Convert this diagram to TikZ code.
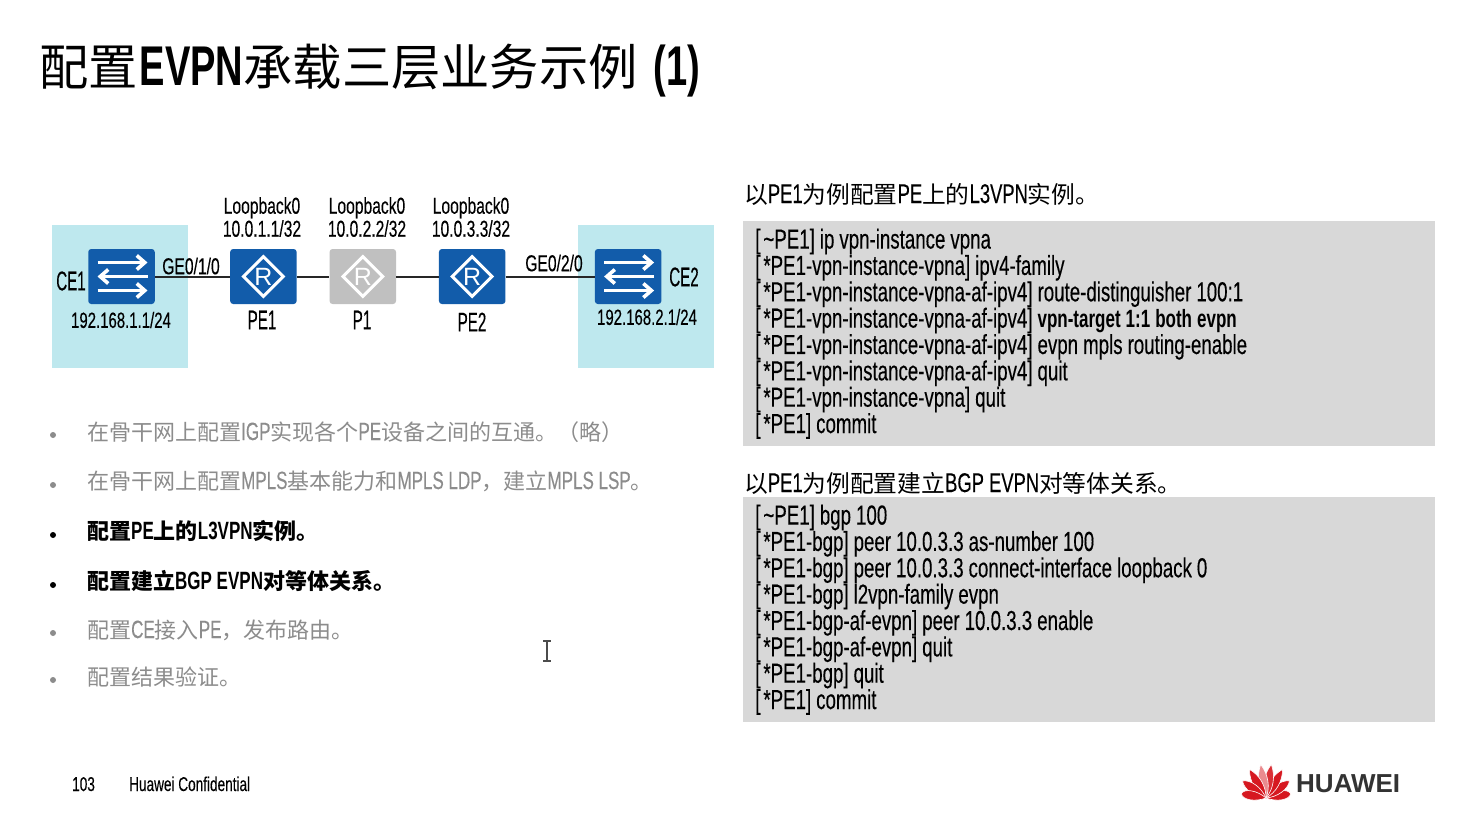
\documentclass[tikz,border=0pt]{standalone}
\usepackage{fontspec}
\usepackage{xcolor}
\setmainfont[FakeStretch=0.68,FakeBold=0.25,BoldFeatures={FakeBold=0}]{Liberation Sans}
\newfontfamily\cjk[Scale=0.88]{Noto Sans CJK SC}
\newfontfamily\namefont[FakeStretch=0.56,FakeBold=0.25]{Liberation Sans}
\newfontfamily\plainsans{Liberation Sans}
\usetikzlibrary{arrows.meta,positioning,shapes.geometric}
\newcommand{\zh}[1]{{\cjk #1}}
\newcommand{\fsize}[1]{\fontsize{#1}{#1}\selectfont}
\newcommand{\lb}{{[}\kern3pt}
\definecolor{hwblue}{RGB}{18,92,170}
\definecolor{siteblue}{RGB}{190,232,238}
\definecolor{codegrey}{RGB}{216,216,216}
\definecolor{pgrey}{RGB}{192,192,192}
\definecolor{muted}{RGB}{140,140,140}
\definecolor{hwred}{RGB}{214,24,32}
\begin{document}
\begin{tikzpicture}[
    x=1pt, y=-1pt,
    node distance=33pt,
    site/.style={fill=siteblue, minimum width=136pt, minimum height=143pt, inner sep=0pt, anchor=north west},
    device/.style={fill=hwblue, rounded corners=3pt, minimum width=66.5pt, minimum height=55pt, inner sep=0pt},
    router/.style={device},
    prouter/.style={device, fill=pgrey},
    rmark/.style={diamond, draw=white, line width=3pt, minimum width=41pt, minimum height=41pt, inner sep=0pt, text=white, font={\plainsans\fsize{25}}},
    swarrow/.style={draw=white, line width=3.6pt, -{Straight Barb[length=8pt,width=14pt]}},
    link/.style={draw=black!85, line width=2pt},
    small/.style={inner sep=0pt, font=\fsize{23}, align=center},
    ipaddr/.style={inner sep=0pt, font=\fsize{22}},
    devname/.style={inner sep=0pt, font={\namefont\fsize{27}}},
    codebox/.style={fill=codegrey, anchor=north west, minimum width=692pt, minimum height=225pt, inner sep=0pt, inner xsep=12pt, text width=668pt, align=left, font={\fontsize{27.5}{26.35}\selectfont\lineskiplimit=-10pt}},
    heading/.style={anchor=base west, inner sep=0pt, font=\fsize{27}},
    bullet/.style={anchor=base west, inner sep=0pt, font=\fsize{25}, text=muted},
    strong/.style={bullet, text=black, font=\fsize{25}\bfseries},
    dot/.style={circle, fill=#1, minimum size=6pt, inner sep=0pt}
  ]
    \useasboundingbox (0,0) rectangle (1480,815);
    \fill[white] (0,0) rectangle (1480,815);

    % title
    \node[anchor=base west, inner sep=0pt, font=\fsize{56}] (title) at (39,85) {\zh{配置}\hspace{2pt}{\bfseries EVPN}\zh{承载三层业务示例}\hspace{16pt}{\bfseries (1)}};

    % network
    \node[site] (site1) at (52,225) {};
    \node[site] (site2) at (578,225) {};
    \node[device] (ce1) at (121.5,276.5) {};
    \node[router, right=75pt of ce1] (pe1) {};
    \node[prouter, right=32.5pt of pe1] (p1) {};
    \node[router, right=42.5pt of p1] (pe2) {};
    \node[device, right=89pt of pe2] (ce2) {};
    \draw[link] (ce1) -- (pe1);
    \draw[link] (pe1) -- (p1);
    \draw[link] (p1) -- (pe2);
    \draw[link] (pe2) -- (ce2);
    \foreach \dev in {pe1,p1,pe2} {
      \node[rmark] at (\dev) {R};
    }
    \foreach \dev in {ce1,ce2} {
      \draw[swarrow] ([xshift=-24pt,yshift=14pt]\dev.center) -- ([xshift=26pt,yshift=14pt]\dev.center);
      \draw[swarrow] ([xshift=26pt]\dev.center) -- ([xshift=-24pt]\dev.center);
      \draw[swarrow] ([xshift=-24pt,yshift=-14pt]\dev.center) -- ([xshift=26pt,yshift=-14pt]\dev.center);
    }
    \node[small] (lo1) at (262,217) {Loopback0\\[0pt]10.0.1.1/32};
    \node[small] (lo2) at (367,217) {Loopback0\\[0pt]10.0.2.2/32};
    \node[small] (lo3) at (471,217) {Loopback0\\[0pt]10.0.3.3/32};
    \node[devname] (ce1name) at (71,281) {CE1};
    \node[devname] (ce2name) at (684,277) {CE2};
    \node[devname] (pe1name) at (262,320) {PE1};
    \node[devname] (p1name) at (362,320) {P1};
    \node[devname] (pe2name) at (472,322) {PE2};
    \node[small] (ge1) at (191,266) {GE0/1/0};
    \node[small] (ge2) at (554,263) {GE0/2/0};
    \node[ipaddr] (ip1) at (121,320) {192.168.1.1/24};
    \node[ipaddr] (ip2) at (647,317) {192.168.2.1/24};

    % steps
    \node[dot=muted] (d1) at (53,435) {};
    \node[bullet] (s1) at (87,440) {\zh{在骨干网上配置}IGP\zh{实现各个}PE\zh{设备之间的互通。（略）}};
    \node[dot=muted] (d2) at (53,485) {};
    \node[bullet] (s2) at (87,489) {\zh{在骨干网上配置}MPLS\zh{基本能力和}MPLS LDP\zh{，建立}MPLS LSP\zh{。}};
    \node[dot=black] (d3) at (53,535) {};
    \node[strong] (s3) at (87,539) {\zh{配置}PE\zh{上的}L3VPN\zh{实例。}};
    \node[dot=black] (d4) at (53,585) {};
    \node[strong] (s4) at (87,589) {\zh{配置建立}BGP EVPN\zh{对等体关系。}};
    \node[dot=muted] (d5) at (53,633) {};
    \node[bullet] (s5) at (87,638) {\zh{配置}CE\zh{接入}PE\zh{，发布路由。}};
    \node[dot=muted] (d6) at (53,680) {};
    \node[bullet] (s6) at (87,685) {\zh{配置结果验证。}};

    % text cursor
    \draw[black!70, line width=1.2pt] (543,641) -- (551,641) (547,641) -- (547,661) (543,661) -- (551,661);

    % commands
    \node[heading] (h1) at (744,203) {\zh{以}PE1\zh{为例配置}PE\zh{上的}L3VPN\zh{实例。}};
    \node[codebox] (code1) at (743,221) {\spaceskip=5pt\relax
      \lb\textasciitilde PE1] ip vpn-instance vpna\\
      \lb*PE1-vpn-instance-vpna] ipv4-family\\
      \lb*PE1-vpn-instance-vpna-af-ipv4] route-distinguisher 100:1\\
      \lb*PE1-vpn-instance-vpna-af-ipv4] \textbf{\fontsize{25}{26.35}\selectfont vpn-target 1:1 both evpn}\\
      \lb*PE1-vpn-instance-vpna-af-ipv4] evpn mpls routing-enable\\
      \lb*PE1-vpn-instance-vpna-af-ipv4] quit\\
      \lb*PE1-vpn-instance-vpna] quit\\
      \lb*PE1] commit};
    \node[heading] (h2) at (744,492) {\zh{以}PE1\zh{为例配置建立}BGP EVPN\zh{对等体关系。}};
    \node[codebox] (code2) at (743,497) {\spaceskip=5pt\relax
      \lb\textasciitilde PE1] bgp 100\\
      \lb*PE1-bgp] peer 10.0.3.3 as-number 100\\
      \lb*PE1-bgp] peer 10.0.3.3 connect-interface loopback 0\\
      \lb*PE1-bgp] l2vpn-family evpn\\
      \lb*PE1-bgp-af-evpn] peer 10.0.3.3 enable\\
      \lb*PE1-bgp-af-evpn] quit\\
      \lb*PE1-bgp] quit\\
      \lb*PE1] commit};

    % footer
    \node[anchor=base west, inner sep=0pt, font=\fsize{20}] (page) at (72,791) {103};
    \node[anchor=base west, inner sep=0pt, font=\fsize{20}] (conf) at (129,791) {Huawei Confidential};
    \foreach \ang/\len/\shade in {-80/25/100,-54/29/100,-30/33/100,-9/34/90,9/34/50,30/33/100,54/29/100,80/25/100} {
      \filldraw[fill=hwred!\shade!white, draw=white, line width=.6pt, rotate around={\ang:(1266,798)}] (1266,798) .. controls (1260,788) and (1260,775) .. (1266,798-\len) .. controls (1272,775) and (1272,788) .. (1266,798);
    }
    \node[anchor=base west, inner sep=0pt, font={\plainsans\bfseries\fsize{26}}, text=black!80] (logo) at (1296,792) {HUAWEI};
\end{tikzpicture}
\end{document}
